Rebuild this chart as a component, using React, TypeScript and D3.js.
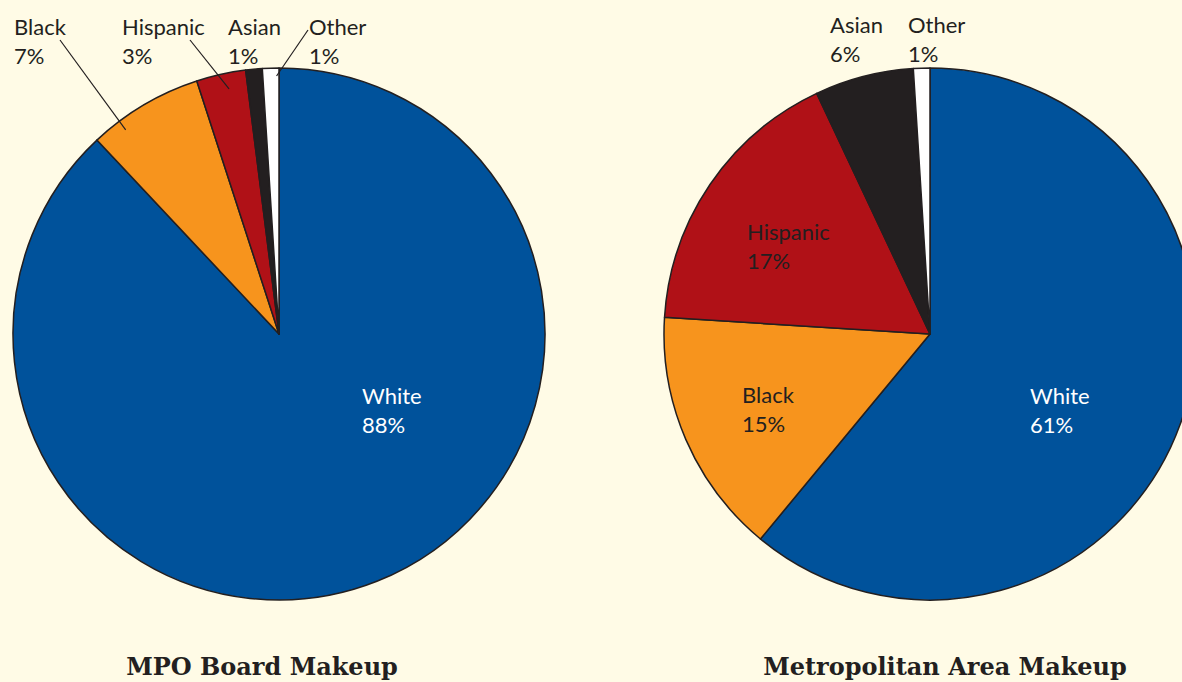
import { useEffect, useRef } from 'react';
import * as d3 from 'd3';

interface Slice {
  group: string;
  share: number;
  color: string;
}

const groups = ['White', 'Black', 'Hispanic', 'Asian', 'Other'];
const colors = ['#00529b', '#f7941d', '#b01117', '#231f20', '#ffffff'];
const boardShares = [88, 7, 3, 1, 1];
const metroShares = [61, 15, 17, 6, 1];
const titles = ['MPO Board Makeup', 'Metropolitan Area Makeup'];

const toSlices = (shares: number[]): Slice[] =>
  groups.map((g, i) => ({ group: g, share: shares[i], color: colors[i] }));

// label layout per pie: inside labels use fixed spots, outside labels get a leader line
interface LabelSpot {
  group: string;
  x: number;
  y: number;
  fill: string;
  leader?: { x: number; y: number; t: number; rf: number };
}

const boardLabels: LabelSpot[] = [
  { group: 'White', x: 362, y: 404, fill: '#ffffff' },
  { group: 'Black', x: 14, y: 35, fill: '#231f20', leader: { x: 60, y: 40, t: 0.25, rf: 0.96 } },
  { group: 'Hispanic', x: 122, y: 35, fill: '#231f20', leader: { x: 190, y: 40, t: 0.6, rf: 0.94 } },
  { group: 'Asian', x: 228, y: 35, fill: '#231f20' },
  { group: 'Other', x: 309, y: 35, fill: '#231f20', leader: { x: 308, y: 30, t: 0.85, rf: 0.97 } }
];

const metroLabels: LabelSpot[] = [
  { group: 'White', x: 1030, y: 404, fill: '#ffffff' },
  { group: 'Black', x: 742, y: 403, fill: '#231f20' },
  { group: 'Hispanic', x: 747, y: 240, fill: '#231f20' },
  { group: 'Asian', x: 830, y: 33, fill: '#231f20' },
  { group: 'Other', x: 908, y: 33, fill: '#231f20' }
];

export default function App() {
  const svgRef = useRef<SVGSVGElement>(null);

  useEffect(() => {
    if (!svgRef.current) return;
    const width = 1182;
    const height = 682;
    const radius = 266;

    const svg = d3.select(svgRef.current);
    svg.selectAll('*').remove();
    svg.attr('width', width).attr('height', height);

    svg.append('rect').attr('width', width).attr('height', height).attr('fill', '#fffbe6');

    const pie = d3
      .pie<Slice>()
      .sort(null)
      .value((d) => d.share);

    const arc = d3.arc<d3.PieArcDatum<Slice>>().innerRadius(0).outerRadius(radius);

    const drawPie = (
      cx: number,
      cy: number,
      shares: number[],
      labels: LabelSpot[],
      title: string,
      titleX: number
    ) => {
      const arcs = pie(toSlices(shares));
      const g = svg.append('g').attr('transform', `translate(${cx},${cy})`);

      g.selectAll('path')
        .data(arcs)
        .enter()
        .append('path')
        .attr('d', arc)
        .attr('fill', (d) => d.data.color)
        .attr('stroke', '#231f20')
        .attr('stroke-width', 1.5)
        .attr('stroke-linejoin', 'round');

      labels.forEach((l) => {
        const a = arcs.find((d) => d.data.group === l.group)!;
        if (l.leader) {
          const ang = a.startAngle + (a.endAngle - a.startAngle) * l.leader.t;
          const r = radius * l.leader.rf;
          svg
            .append('line')
            .attr('x1', l.leader.x)
            .attr('y1', l.leader.y)
            .attr('x2', cx + r * Math.sin(ang))
            .attr('y2', cy - r * Math.cos(ang))
            .attr('stroke', '#231f20')
            .attr('stroke-width', 1.2);
        }
        const t = svg
          .append('text')
          .attr('x', l.x)
          .attr('y', l.y)
          .attr('fill', l.fill)
          .style('font-family', 'Lato, sans-serif')
          .style('font-size', '22px');
        t.append('tspan').attr('x', l.x).text(l.group);
        t.append('tspan').attr('x', l.x).attr('dy', 29).text(`${a.data.share}%`);
      });

      svg
        .append('text')
        .attr('x', titleX)
        .attr('y', 675)
        .attr('text-anchor', 'middle')
        .attr('fill', '#231f20')
        .style('font-family', '"DejaVu Serif", serif')
        .style('font-size', '24px')
        .style('font-weight', 'bold')
        .text(title);
    };

    drawPie(279, 334, boardShares, boardLabels, titles[0], 262);
    drawPie(930, 334, metroShares, metroLabels, titles[1], 945);
  }, []);

  return <svg ref={svgRef} style={{ position: 'absolute', left: 0, top: 0 }}></svg>;
}
